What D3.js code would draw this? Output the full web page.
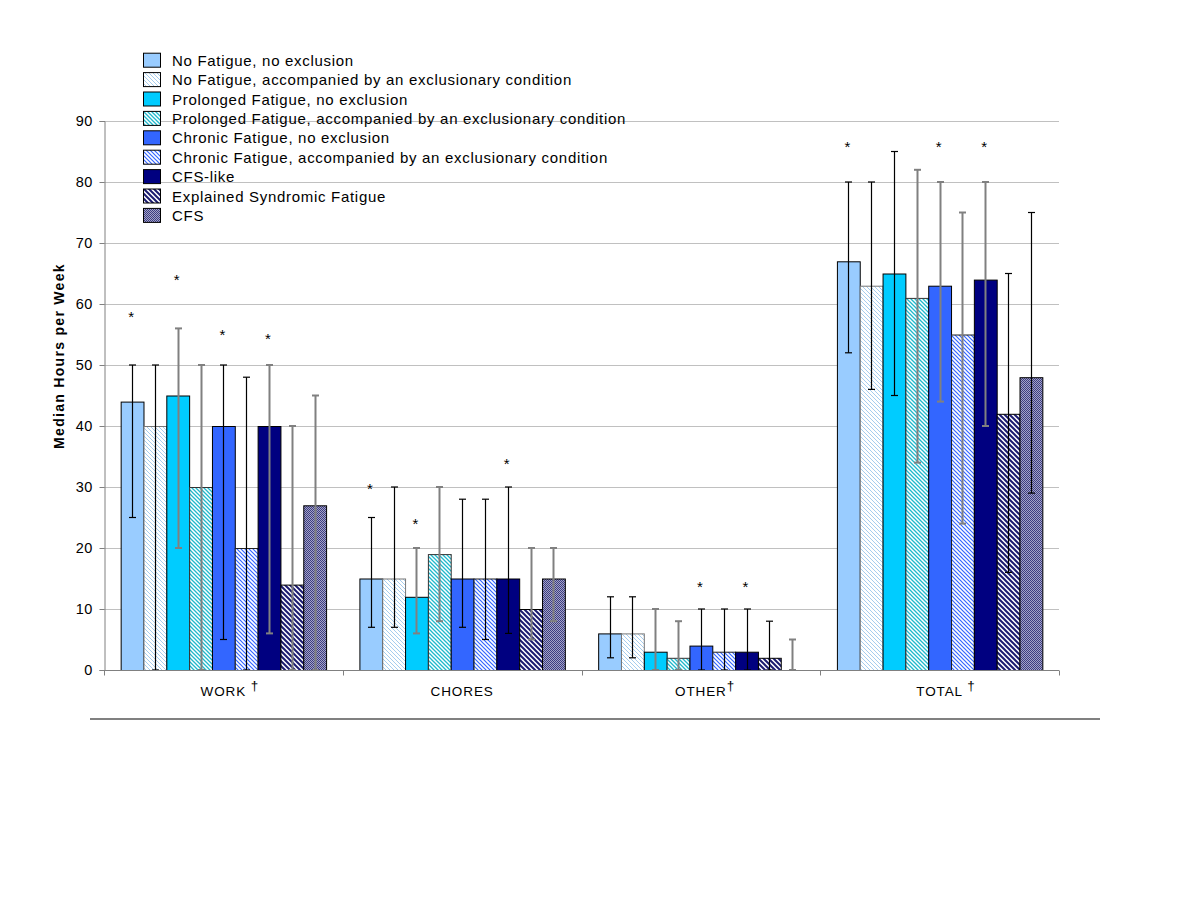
<!DOCTYPE html>
<html>
<head>
<meta charset="utf-8">
<script src="https://cdn.jsdelivr.net/npm/d3@7/dist/d3.min.js"></script>
<style>
  html, body { margin: 0; padding: 0; background: #fff; }
  svg { display: block; font-family: "Liberation Sans", Arial, sans-serif; }
</style>
</head>
<body>
<svg id="chart" width="1200" height="900"></svg>
<script>
// ---------------- DATA ----------------
const categories = ["WORK", "CHORES", "OTHER", "TOTAL"];
const categorySuffix = [" \u2020", "", "\u2020", " \u2020"];
const seriesNames = [
  "No Fatigue, no exclusion",
  "No Fatigue, accompanied by an exclusionary condition",
  "Prolonged Fatigue, no exclusion",
  "Prolonged Fatigue, accompanied by an exclusionary condition",
  "Chronic Fatigue, no exclusion",
  "Chronic Fatigue, accompanied by an exclusionary condition",
  "CFS-like",
  "Explained Syndromic Fatigue",
  "CFS"
];
const medianWork   = [44, 40, 45, 30, 40, 20, 40, 14, 27];
const medianChores = [15, 15, 12, 19, 15, 15, 15, 10, 15];
const medianOther  = [6, 6, 3, 2, 4, 3, 3, 2, 0];
const medianTotal  = [67, 63, 65, 61, 63, 55, 64, 42, 48];

const lowWork    = [25, 0, 20, 0, 5, 0, 6, 0, 0];
const highWork   = [50, 50, 56, 50, 50, 48, 50, 40, 45];
const lowChores  = [7, 7, 6, 8, 7, 5, 6, 5, 8];
const highChores = [25, 30, 20, 30, 28, 28, 30, 20, 20];
const lowOther   = [2, 2, 0, 0, 0, 0, 0, 0, 0];
const highOther  = [12, 12, 10, 8, 10, 10, 10, 8, 5];
const lowTotal   = [52, 46, 45, 34, 44, 24, 40, 16, 29];
const highTotal  = [80, 80, 85, 82, 80, 75, 80, 65, 75];

// significance markers (*)
const starCategory = ["WORK", "WORK", "WORK", "WORK", "CHORES", "CHORES", "CHORES", "OTHER", "OTHER", "TOTAL", "TOTAL", "TOTAL"];
const starSeries   = [0, 2, 4, 6, 0, 2, 6, 4, 6, 0, 4, 6];
const starValue    = [58.5, 64.6, 55.6, 54.9, 30.3, 24.6, 34.4, 14.3, 14.3, 86.4, 86.4, 86.4];

const yTicks = [0, 10, 20, 30, 40, 50, 60, 70, 80, 90];
const yTitle = "Median Hours per Week";

// ---------------- STYLE ----------------
const errStyleByCat = {
  WORK:   "bbggbbggg",
  CHORES: "bbggbbbgg",
  OTHER:  "bbggbbbbg",
  TOTAL:  "bbbggggbb"
};

const medians = [medianWork, medianChores, medianOther, medianTotal];
const lows = [lowWork, lowChores, lowOther, lowTotal];
const highs = [highWork, highChores, highOther, highTotal];

const rows = [];
categories.forEach((c, ci) => {
  seriesNames.forEach((s, si) => {
    rows.push({cat: c, ci, si, v: medians[ci][si], lo: lows[ci][si], hi: highs[ci][si]});
  });
});

const svg = d3.select("#chart");
const defs = svg.append("defs");

function diagPattern(id, color, spacing, width, bg) {
  const p = defs.append("pattern").attr("id", id)
    .attr("patternUnits", "userSpaceOnUse")
    .attr("width", spacing).attr("height", spacing);
  p.append("rect").attr("width", spacing).attr("height", spacing).attr("fill", bg);
  const s = spacing;
  p.append("path")
    .attr("d", `M0,0 L${s},${s} M${-s/2},${s/2} L${s/2},${s*1.5} M${s/2},${-s/2} L${s*1.5},${s/2}`)
    .attr("stroke", color).attr("stroke-width", width).attr("shape-rendering", "auto");
}
diagPattern("p2", "#a6cdee", 4, 1, "#ffffff");
diagPattern("p4", "#1fb8cc", 4, 1.3, "#ffffff");
diagPattern("p6", "#3366ff", 4, 1.2, "#ffffff");
diagPattern("p8", "#1a1a70", 5, 2, "#ffffff");
(function () {
  const p = defs.append("pattern").attr("id", "p9")
    .attr("patternUnits", "userSpaceOnUse").attr("width", 2).attr("height", 2);
  p.append("rect").attr("width", 2).attr("height", 2).attr("fill", "#a4a4c6");
  p.append("rect").attr("width", 1).attr("height", 1).attr("fill", "#3c3c82");
  p.append("rect").attr("x", 1).attr("y", 1).attr("width", 1).attr("height", 1).attr("fill", "#3c3c82");
})();

const fills = ["#99ccff", "url(#p2)", "#00ccff", "url(#p4)", "#3366ff", "url(#p6)", "#000080", "url(#p8)", "url(#p9)"];
const strokes = ["#000", "#777", "#000", "#333", "#000", "#222", "#000", "#000", "#000"];

// ---------------- SCALES ----------------
const y = d3.scaleLinear().domain([0, 90]).range([670, 121]);
const x0 = d3.scaleBand().domain(categories).range([104, 1059]).padding(0);
const x1 = d3.scaleBand().domain(d3.range(seriesNames.length))
  .range([0, x0.bandwidth()]).paddingInner(0).paddingOuter(0.73);

// gridlines
svg.append("g").selectAll("line").data(yTicks.filter(t => t > 0)).join("line")
  .attr("x1", 104).attr("x2", 1059)
  .attr("y1", d => y(d) + 0.5).attr("y2", d => y(d) + 0.5)
  .attr("stroke", "#c0c0c0").attr("stroke-width", 1);

// legend
const legend = svg.append("g");
seriesNames.forEach((name, i) => {
  const by = 65.7 + i * 19.4;
  legend.append("rect").attr("x", 143.5).attr("y", by - 12.5).attr("width", 17).attr("height", 14)
    .attr("fill", fills[i]).attr("stroke", "#000").attr("stroke-width", 1);
  legend.append("text").attr("x", 172).attr("y", by)
    .attr("font-size", 15).attr("letter-spacing", 0.7).attr("fill", "#000").text(name);
});

// bars
svg.append("g").selectAll("rect").data(rows).join("rect")
  .attr("x", d => x0(d.cat) + x1(d.si) + 0.5)
  .attr("y", d => y(d.v) + 0.5)
  .attr("width", x1.bandwidth())
  .attr("height", d => y(0) - y(d.v))
  .attr("fill", d => fills[d.si])
  .attr("stroke", d => strokes[d.si]).attr("stroke-width", 1);

// error bars
const eb = svg.append("g");
rows.forEach(d => {
  const cx = Math.round(x0(d.cat) + x1(d.si) + x1.bandwidth() / 2) + 0.5;
  const gray = errStyleByCat[d.cat][d.si] === "g";
  const col = gray ? "#808080" : "#000";
  const sw = gray ? 2 : 1.2;
  eb.append("line").attr("x1", cx).attr("x2", cx).attr("y1", y(d.lo)).attr("y2", y(d.hi))
    .attr("stroke", col).attr("stroke-width", sw);
  [d.lo, d.hi].forEach(v => {
    eb.append("line").attr("x1", cx - 3.5).attr("x2", cx + 3.5).attr("y1", y(v)).attr("y2", y(v))
      .attr("stroke", col).attr("stroke-width", sw);
  });
});

// stars
svg.append("g").selectAll("text").data(starValue).join("text")
  .attr("x", (v, i) => x0(starCategory[i]) + x1(starSeries[i]) + x1.bandwidth() / 2 - 1)
  .attr("y", v => y(v) + 9)
  .attr("text-anchor", "middle").attr("font-size", 15).attr("fill", "#000")
  .text("*");

// y axis
const yAxis = svg.append("g").attr("transform", "translate(104.5,0)")
  .call(d3.axisLeft(y).tickValues(yTicks).tickSize(5).tickPadding(7));
yAxis.select(".domain").attr("stroke", "#808080");
yAxis.selectAll(".tick line").attr("stroke", "#808080");
yAxis.selectAll(".tick text").attr("font-size", 14.5).attr("letter-spacing", 0.3)
  .attr("fill", "#000").attr("font-family", "Liberation Sans, Arial, sans-serif");

// x axis
const xAxisG = svg.append("g").attr("transform", "translate(0,670.5)");
xAxisG.append("line").attr("x1", 104).attr("x2", 1059).attr("stroke", "#808080");
const bounds = categories.map(c => x0(c)).concat([x0.range()[1]]);
xAxisG.selectAll("line.t").data(bounds).join("line").attr("class", "t")
  .attr("x1", d => Math.round(d) + 0.5).attr("x2", d => Math.round(d) + 0.5)
  .attr("y1", 0).attr("y2", 5).attr("stroke", "#808080");

categories.forEach((c, i) => {
  const cx = x0(c) + x0.bandwidth() / 2;
  const t = svg.append("text").attr("y", 695.5).attr("font-size", 13.5).attr("letter-spacing", 0.9).attr("fill", "#000");
  const main = t.append("tspan").text(c);
  const w = main.node().getComputedTextLength();
  t.attr("x", cx - w / 2);
  if (categorySuffix[i]) {
    t.append("tspan").attr("dy", -6).text(categorySuffix[i]);
  }
});

// y title
svg.append("text")
  .attr("transform", "translate(64,356) rotate(-90)")
  .attr("text-anchor", "middle").attr("font-size", 14).attr("font-weight", "bold")
  .attr("letter-spacing", 1.3).attr("fill", "#000").text(yTitle);

// bottom rule
svg.append("line").attr("x1", 90).attr("x2", 1100).attr("y1", 719).attr("y2", 719)
  .attr("stroke", "#808080").attr("stroke-width", 2);
</script>
</body>
</html>
